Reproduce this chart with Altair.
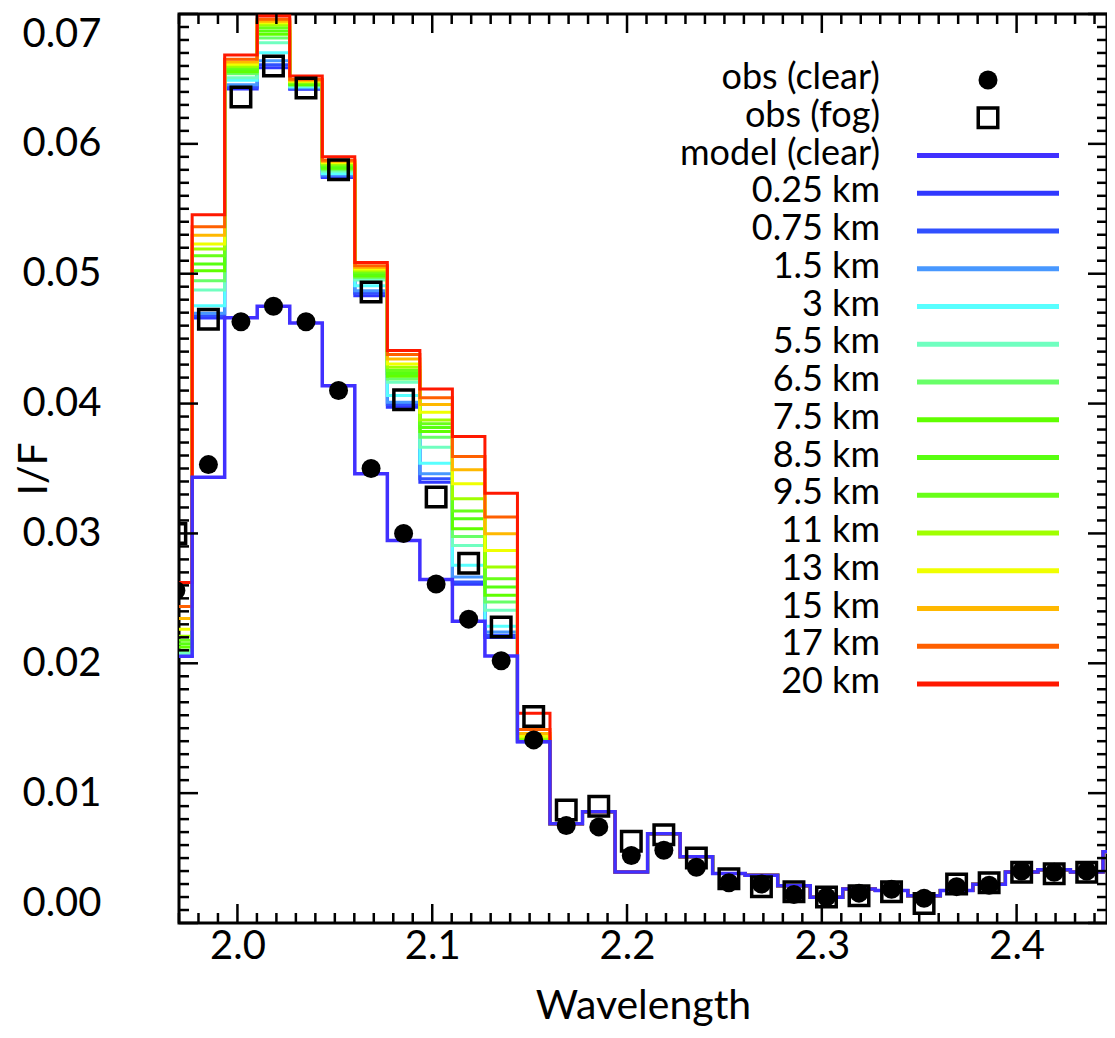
import altair as alt
import pandas as pd

# ---------------- data ----------------
WAVELENGTH = [1.9684, 1.9851, 2.0018, 2.0185, 2.0352, 2.0519, 2.0686, 2.0853,
              2.1020, 2.1187, 2.1354, 2.1521, 2.1688, 2.1855, 2.2022, 2.2189,
              2.2356, 2.2523, 2.2690, 2.2857, 2.3024, 2.3191, 2.3358, 2.3525,
              2.3692, 2.3859, 2.4026, 2.4193, 2.4360, 2.4527]

OBS_CLEAR = [0.0256, 0.0353, 0.0463, 0.0475, 0.0463, 0.0410, 0.0350, 0.0300,
             0.0261, 0.0234, 0.0202, 0.0141, 0.0075, 0.0074, 0.0052, 0.0056,
             0.0043, 0.0031, 0.0030, 0.0022, 0.0020, 0.0023, 0.0026, 0.0019,
             0.0028, 0.0029, 0.0040, 0.0039, 0.0040, 0.0045]

OBS_FOG = [0.0300, 0.0465, 0.0636, 0.0660, 0.0643, 0.0580, 0.0486, 0.0403,
           0.0328, 0.0277, 0.0228, 0.0159, 0.0087, 0.0090, 0.0063, 0.0068,
           0.0050, 0.0034, 0.0028, 0.0024, 0.0020, 0.0021, 0.0024, 0.0015,
           0.0030, 0.0031, 0.0039, 0.0038, 0.0039, 0.0047]

MODEL_CLEAR = [0.02054, 0.03433, 0.04660, 0.04749, 0.04620, 0.04138, 0.03459,
               0.02946, 0.02646, 0.02323, 0.02056, 0.01395, 0.00765, 0.00856,
               0.00393, 0.00687, 0.00510, 0.00382, 0.00367, 0.00286, 0.00198,
               0.00261, 0.00251, 0.00209, 0.00251, 0.00299, 0.00393, 0.00410,
               0.00393, 0.00549]

# fog models: first 12 bins (1.968 .. 2.152 um); beyond that they coincide with the clear model
FOG_LABELS = ["0.25 km", "0.75 km", "1.5 km", "3 km", "5.5 km", "6.5 km", "7.5 km",
              "8.5 km", "9.5 km", "11 km", "13 km", "15 km", "17 km", "20 km"]
FOG_COLORS = ["#3038FF", "#3050FF", "#4898FF", "#58FFFF", "#70FFC0", "#68FF68", "#60FF00",
              "#58FF10", "#68FF18", "#A0FF00", "#F0FF00", "#FFB800", "#FF6000", "#FF1800"]
FOG_HEAD = {
    "0.25 km": [0.02058, 0.04659, 0.06423, 0.06587, 0.06420, 0.05741, 0.04831, 0.03972, 0.03395, 0.02608, 0.02198, 0.01396],
    "0.75 km": [0.02060, 0.04677, 0.06435, 0.06610, 0.06425, 0.05748, 0.04849, 0.03992, 0.03421, 0.02626, 0.02215, 0.01397],
    "1.5 km":  [0.02063, 0.04695, 0.06455, 0.06640, 0.06432, 0.05760, 0.04869, 0.04010, 0.03459, 0.02664, 0.02241, 0.01398],
    "3 km":    [0.02069, 0.04754, 0.06490, 0.06702, 0.06440, 0.05772, 0.04908, 0.04062, 0.03541, 0.02754, 0.02285, 0.01400],
    "5.5 km":  [0.02079, 0.04874, 0.06510, 0.06779, 0.06448, 0.05790, 0.04951, 0.04164, 0.03664, 0.02908, 0.02408, 0.01402],
    "6.5 km":  [0.02100, 0.04946, 0.06540, 0.06815, 0.06452, 0.05800, 0.04970, 0.04190, 0.03740, 0.02977, 0.02472, 0.01405],
    "7.5 km":  [0.02126, 0.05023, 0.06555, 0.06845, 0.06458, 0.05812, 0.04982, 0.04210, 0.03785, 0.03036, 0.02523, 0.01408],
    "8.5 km":  [0.02151, 0.05074, 0.06570, 0.06870, 0.06464, 0.05823, 0.04995, 0.04232, 0.03815, 0.03113, 0.02587, 0.01412],
    "9.5 km":  [0.02177, 0.05138, 0.06585, 0.06895, 0.06470, 0.05835, 0.05010, 0.04254, 0.03844, 0.03172, 0.02651, 0.01418],
    "11 km":   [0.02208, 0.05190, 0.06598, 0.06915, 0.06476, 0.05845, 0.05023, 0.04279, 0.03874, 0.03267, 0.02741, 0.01425],
    "13 km":   [0.02262, 0.05228, 0.06613, 0.06933, 0.06482, 0.05856, 0.05036, 0.04305, 0.03933, 0.03382, 0.02869, 0.01438],
    "15 km":   [0.02344, 0.05297, 0.06630, 0.06945, 0.06490, 0.05865, 0.05048, 0.04344, 0.03992, 0.03490, 0.02998, 0.01459],
    "17 km":   [0.02438, 0.05362, 0.06651, 0.06959, 0.06498, 0.05874, 0.05062, 0.04377, 0.04044, 0.03592, 0.03126, 0.01490],
    "20 km":   [0.02623, 0.05454, 0.06685, 0.06985, 0.06523, 0.05900, 0.05087, 0.04408, 0.04113, 0.03746, 0.03310, 0.01615],
}
CLEAR_COLOR = "#4030FF"

LEGEND_LABELS = ["obs (clear)", "obs (fog)", "model (clear)"] + FOG_LABELS
LEGEND_COLORS = [CLEAR_COLOR] + FOG_COLORS

X_MAJOR = [2.0, 2.1, 2.2, 2.3, 2.4]
Y_MAJOR = [0.00, 0.01, 0.02, 0.03, 0.04, 0.05, 0.06, 0.07]
X_MINOR = [round(1.97 + 0.01 * i, 2) for i in range(48) if round(1.97 + 0.01 * i, 2) not in X_MAJOR]
Y_MINOR = [round(0.001 * i, 3) for i in range(71) if i % 10 != 0]

# ---------------- layout ----------------
W, H = 928, 909
X_MAX = 1.97 + 0.48 * W / 935.0   # same pixels per micron as the reference, right edge trimmed to fit the page
FONT = "Lato"
TICK_FS = 40
LEG_FS = 36


def xs():
    return alt.Scale(domain=[1.97, X_MAX], nice=False, zero=False)


def ys():
    return alt.Scale(domain=[0.0, 0.07], nice=False, zero=False)


x_axis = alt.Axis(values=X_MAJOR, format=".1f", ticks=False, domain=False, grid=False,
                  labelFont=FONT, labelFontSize=TICK_FS, labelColor="black", labelPadding=3,
                  title="Wavelength", titleFont=FONT, titleFontSize=41, titleFontWeight="normal",
                  titleColor="black", titleX=W / 2, titleY=95, titleAlign="center",
                  titleBaseline="alphabetic")
y_axis = alt.Axis(values=Y_MAJOR, format=".2f", ticks=False, domain=False, grid=False,
                  labelFont=FONT, labelFontSize=TICK_FS, labelColor="black", labelPadding=78,
                  labelFlush=True,
                  title="I/F", titleFont=FONT, titleFontSize=41, titleFontWeight="normal",
                  titleColor="black", titleX=-145, titleY=H / 2, titleAngle=270,
                  titleAlign="center", titleBaseline="middle")

rows = []
for i, w in enumerate(WAVELENGTH):
    rows.append({"series": "model (clear)", "wl": w, "v": MODEL_CLEAR[i]})
    for lab in FOG_LABELS:
        head = FOG_HEAD[lab]
        v = head[i] if i < len(head) else MODEL_CLEAR[i]
        rows.append({"series": lab, "wl": w, "v": v})
lines_df = pd.DataFrame(rows)
obs_df = pd.DataFrame({"wl": WAVELENGTH, "clear": OBS_CLEAR, "fog": OBS_FOG})

layers = []
first = True
for lab, col in zip(FOG_LABELS, FOG_COLORS):
    layers.append(
        alt.Chart(lines_df).transform_filter(alt.datum.series == lab)
        .mark_line(interpolate="step", color=col, strokeWidth=3, clip=True)
        .encode(x=alt.X("wl:Q", scale=xs(), axis=x_axis if first else None),
                y=alt.Y("v:Q", scale=ys(), axis=y_axis if first else None),
                order="wl:Q")
    )
    first = False

layers.append(
    alt.Chart(lines_df).transform_filter(alt.datum.series == "model (clear)")
    .mark_line(interpolate="step", color=CLEAR_COLOR, strokeWidth=3.5, clip=True)
    .encode(x=alt.X("wl:Q", scale=xs(), axis=None),
            y=alt.Y("v:Q", scale=ys(), axis=None), order="wl:Q")
)
layers.append(
    alt.Chart(obs_df).mark_point(shape="circle", filled=True, color="black", opacity=1,
                                 size=361, clip=True)
    .encode(x=alt.X("wl:Q", scale=xs(), axis=None),
            y=alt.Y("clear:Q", scale=ys(), axis=None))
)
layers.append(
    alt.Chart(obs_df).mark_point(shape="square", filled=False, color="black", opacity=1,
                                 size=380, strokeWidth=3.5, clip=True)
    .encode(x=alt.X("wl:Q", scale=xs(), axis=None),
            y=alt.Y("fog:Q", scale=ys(), axis=None))
)


# inward ticks on all four sides
def yticks(vals, length):
    df = pd.DataFrame({"t": vals})
    left = alt.Chart(df).mark_rule(color="black", strokeWidth=2.5).encode(
        y=alt.Y("t:Q", scale=ys(), axis=None), x=alt.value(0), x2=alt.value(length))
    right = alt.Chart(df).mark_rule(color="black", strokeWidth=2.5).encode(
        y=alt.Y("t:Q", scale=ys(), axis=None), x=alt.value(W - length), x2=alt.value(W))
    return [left, right]


def xticks(vals, length):
    df = pd.DataFrame({"t": vals})
    bottom = alt.Chart(df).mark_rule(color="black", strokeWidth=2.5).encode(
        x=alt.X("t:Q", scale=xs(), axis=None), y=alt.value(H - length), y2=alt.value(H))
    top = alt.Chart(df).mark_rule(color="black", strokeWidth=2.5).encode(
        x=alt.X("t:Q", scale=xs(), axis=None), y=alt.value(0), y2=alt.value(length))
    return [bottom, top]


layers += yticks(Y_MAJOR, 19) + yticks(Y_MINOR, 10) + xticks(X_MAJOR, 19) + xticks(X_MINOR, 10)

# legend (text on the left, symbol on the right), rows placed by their own scale
leg_df = pd.DataFrame({
    "row": list(range(len(LEGEND_LABELS))),
    "label": LEGEND_LABELS,
    "color": ["black", "black"] + LEGEND_COLORS,
})
leg_y = alt.Y("row:Q", scale=alt.Scale(domain=[0, 16], range=[66, 670], nice=False, zero=False),
              axis=None)

layers.append(alt.Chart(leg_df).mark_text(align="right", baseline="middle", font=FONT, fontSize=LEG_FS,
                                          color="black", dy=-2).encode(
    x=alt.value(701), y=leg_y, text="label:N"))
layers.append(alt.Chart(leg_df).transform_filter(alt.datum.row >= 2).mark_rule(strokeWidth=5).encode(
    x=alt.value(738), x2=alt.value(880), y=leg_y, color=alt.Color("color:N", scale=None)))
layers.append(alt.Chart(leg_df).transform_filter(alt.datum.row == 0).mark_point(
    shape="circle", filled=True, color="black", opacity=1, size=361).encode(x=alt.value(809), y=leg_y))
layers.append(alt.Chart(leg_df).transform_filter(alt.datum.row == 1).mark_point(
    shape="square", filled=False, color="black", opacity=1, size=380, strokeWidth=3.5).encode(
    x=alt.value(809), y=leg_y))

chart = alt.layer(*layers).resolve_scale(x="independent", y="independent").properties(
    width=W, height=H,
    padding={"left": 171, "top": 6, "right": 0, "bottom": 103},
    autosize=alt.AutoSizeParams(type="none"),
    background="white",
).configure_view(stroke="black", strokeWidth=3)

chart.save("out.html", embed_options={"renderer": "svg", "actions": False})
